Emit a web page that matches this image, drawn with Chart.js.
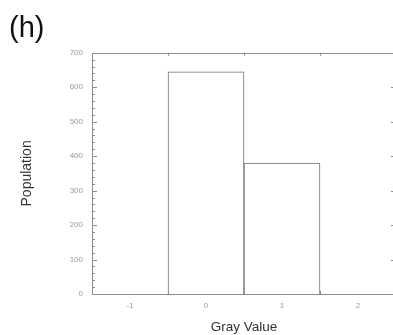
<!DOCTYPE html>
<html>
<head>
<meta charset="utf-8">
<script src="https://cdn.jsdelivr.net/npm/chart.js@4"></script>
<style>
  html, body { margin: 0; padding: 0; background: #fff; overflow: hidden; }
  canvas { display: block; }
</style>
</head>
<body>
<canvas id="histChart" width="400" height="335"></canvas>
<script>
const grayValues = ["-1", "0", "1", "2"];
const population = [0, 645, 380, 0];
const yTicksMajor = 100;
const yTicksMinor = 20;

Chart.defaults.font.family = "'Liberation Sans', Arial, sans-serif";

// frame round the plot with inward tick marks on all four sides
const framePlugin = {
    id: "frame",
    afterDraw(chart) {
        const { ctx, chartArea: a, scales } = chart;
        const x = scales.x, y = scales.y;
        ctx.save();
        ctx.strokeStyle = "#8c8c8c";
        ctx.lineWidth = 1;
        ctx.strokeRect(Math.round(a.left) + 0.5, Math.round(a.top) + 0.5,
            Math.round(a.right - a.left), Math.round(a.bottom - a.top));

        ctx.beginPath();
        for (let v = y.min; v <= y.max; v += yTicksMinor) {
            const py = Math.round(y.getPixelForValue(v)) + 0.5;
            const len = v % yTicksMajor === 0 ? 5 : 3;
            ctx.moveTo(a.left, py);
            ctx.lineTo(a.left + len, py);
            ctx.moveTo(a.right, py);
            ctx.lineTo(a.right - len, py);
        }
        // bin edges along top and bottom
        for (let i = 0; i < grayValues.length - 1; i++) {
            const px = Math.round((x.getPixelForTick(i) + x.getPixelForTick(i + 1)) / 2) + 0.5;
            ctx.moveTo(px, a.top);
            ctx.lineTo(px, a.top + 3);
            ctx.moveTo(px, a.bottom);
            ctx.lineTo(px, a.bottom - 3);
        }
        ctx.stroke();
        ctx.restore();
    }
};

new Chart(document.getElementById("histChart"), {
    type: "bar",
    data: {
        labels: grayValues,
        datasets: [
            {
                label: "Population",
                data: population,
                backgroundColor: "#ffffff",
                borderColor: "#6e6e6e",
                borderWidth: 1,
                barPercentage: 1,
                categoryPercentage: 1,
            },
        ],
    },
    options: {
        responsive: false,
        animation: false,
        layout: {
            padding: { left: 9, right: 4, top: 0, bottom: 0 },
        },
        plugins: {
            legend: { display: false },
            tooltip: { enabled: false },
            title: {
                display: true,
                text: "(h)",
                align: "start",
                color: "#111",
                font: { size: 29, weight: "normal" },
                padding: { top: 12, bottom: 6 },
            },
        },
        scales: {
            x: {
                grid: { display: false, drawTicks: false },
                border: { display: false },
                ticks: {
                    color: "#9a9a9a",
                    font: { size: 8 },
                    padding: 7,
                    maxRotation: 0,
                },
                title: {
                    display: true,
                    text: "Gray Value",
                    color: "#333",
                    font: { size: 13.5 },
                    padding: { top: 6, bottom: 0 },
                },
                afterFit: (s) => { s.height = 41; },
            },
            y: {
                min: 0,
                max: 700,
                grid: { display: false, drawTicks: false },
                border: { display: false },
                ticks: {
                    stepSize: yTicksMajor,
                    color: "#9a9a9a",
                    font: { size: 8 },
                    padding: 9,
                },
                title: {
                    display: true,
                    text: "Population",
                    color: "#333",
                    font: { size: 14 },
                    padding: { top: 10, bottom: 0 },
                },
                afterFit: (s) => { s.width = 83; },
            },
        },
    },
    plugins: [framePlugin],
});
</script>
</body>
</html>
